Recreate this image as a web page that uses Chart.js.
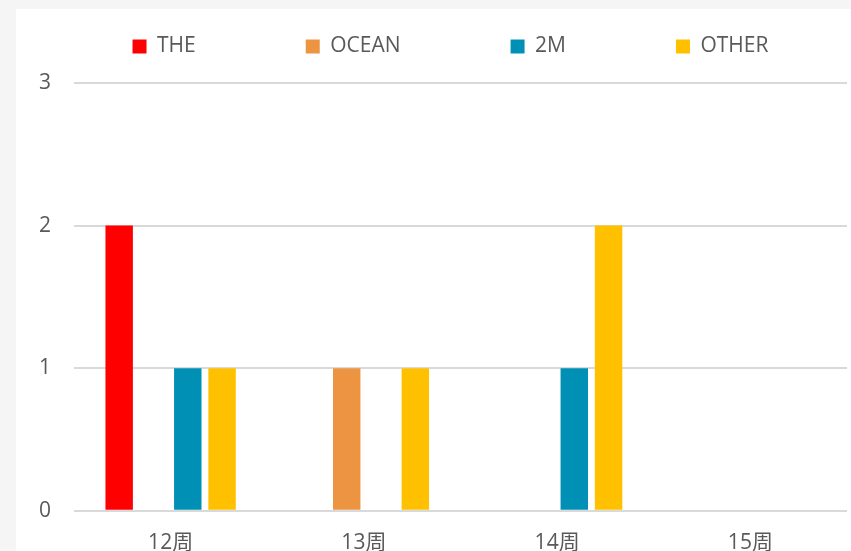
<!DOCTYPE html>
<html>
<head>
<meta charset="utf-8">
<script src="https://cdn.jsdelivr.net/npm/chart.js@4"></script>
<style>
  html, body { margin: 0; padding: 0; background: #f5f5f5; overflow: hidden; }
  #panel { position: absolute; left: 16px; top: 9px; width: 835px; height: 582px; background: #ffffff; }
</style>
</head>
<body>
<div id="panel"><canvas id="weekChart"></canvas></div>
<script>
/* ── Data ─────────────────────────────────────────────────── */
const weeks    = ['12周', '13周', '14周', '15周'];
const theVals   = [2, 0, 0, 0];
const oceanVals = [0, 1, 0, 0];
const twoMVals  = [1, 0, 1, 0];
const otherVals = [1, 1, 2, 0];
const yTicks   = [0, 1, 2, 3];

const FONT = { family: "'Open Sans', 'Noto Sans CJK SC', sans-serif", size: 21 };
const TEXT = '#595959';
const LEGEND_GAP = 110;

/* wide legend gaps: keep all items on one row, then centre it over the plot */
const legendPlace = {
  id: 'legendPlace',
  afterInit(chart) {
    const lg = chart.legend;
    const fit = lg.fit;
    lg.fit = function () {
      const mw = this.maxWidth;
      this.maxWidth = 3000;
      fit.call(this);
      this.maxWidth = mw;
      this.width = mw;
    };
  },
  afterLayout(chart) {
    const lg = chart.legend;
    const cx = 434.5;
    lg.left = cx - 1500;
    lg.right = cx + 1500;
    lg.top = 35 - LEGEND_GAP - 13 + 5;
  }
};

function ds(label, data, color) {
  return {
    label, data,
    backgroundColor: color,
    borderWidth: 0,
    categoryPercentage: 0.71,
    barPercentage: 0.8
  };
}

new Chart(document.getElementById('weekChart'), {
  type: 'bar',
  data: {
    labels: weeks,
    datasets: [
      ds('THE',   theVals,   '#ff0000'),
      ds('OCEAN', oceanVals, '#ed9443'),
      ds('2M',    twoMVals,  '#0090b6'),
      ds('OTHER', otherVals, '#ffc000')
    ]
  },
  options: {
    responsive: true,
    maintainAspectRatio: false,
    animation: false,
    layout: { padding: { top: 0, right: 4, bottom: 15, left: 0 } },
    plugins: {
      legend: {
        position: 'top',
        maxHeight: 74,
        labels: {
          boxWidth: 14,
          boxHeight: 14,
          padding: LEGEND_GAP,
          color: TEXT,
          font: FONT
        }
      },
      tooltip: { enabled: false }
    },
    scales: {
      x: {
        grid: { display: false, drawTicks: false },
        border: { display: false },
        ticks: { color: TEXT, font: FONT, padding: 20 }
      },
      y: {
        min: yTicks[0],
        max: yTicks[yTicks.length - 1],
        afterFit(scale) { scale.width = 58; },
        afterBuildTicks(scale) { scale.ticks = yTicks.map(v => ({ value: v })); },
        grid: { color: '#d9d9d9', lineWidth: 2, drawTicks: false },
        border: { display: false },
        ticks: { color: TEXT, font: FONT, padding: 23 }
      }
    }
  },
  plugins: [legendPlace]
});
</script>
</body>
</html>
